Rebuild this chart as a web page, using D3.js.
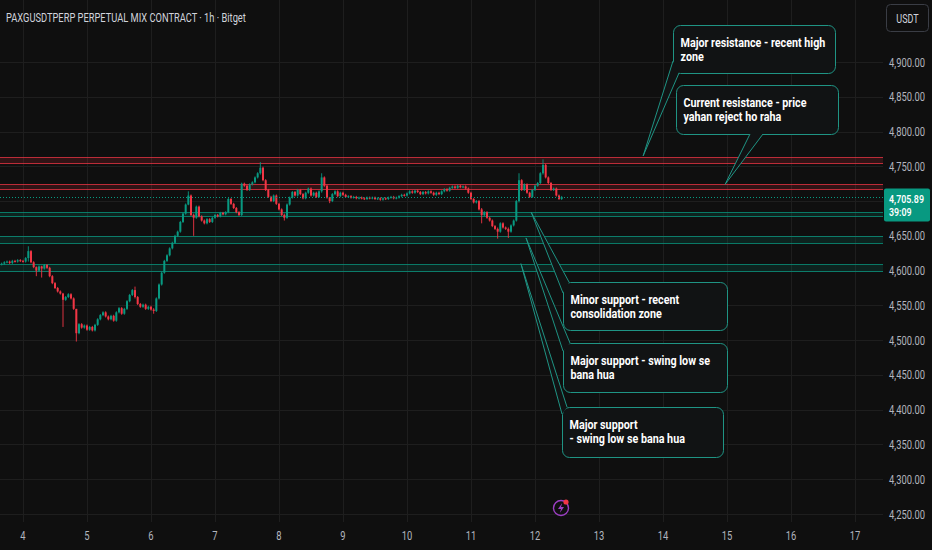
<!DOCTYPE html>
<html>
<head>
<meta charset="utf-8">
<script src="https://cdn.jsdelivr.net/npm/d3@7"></script>
<style>
  html, body { margin: 0; padding: 0; background: #0f0f0f; }
  svg { display: block; }
</style>
</head>
<body>
<svg id="chart"></svg>
<script>
    // PAXG perp, 1h candles
    var title = "PAXGUSDTPERP PERPETUAL MIX CONTRACT · 1h · Bitget"
    var currency = "USDT"
    var lastPrice = 4705.89
    var countdown = "39:09"

    var dayTicks = [4, 5, 6, 7, 8, 9, 10, 11, 12, 13, 14, 15, 16, 17]
    var priceTicks = [4250, 4300, 4350, 4400, 4450, 4500, 4550, 4600, 4650, 4700, 4750, 4800, 4850, 4900]
    var hiddenPriceTicks = [4700] // sits under the last price tag

    // first candle opens day 3, 16:00
    var firstCandleDay = 3 + 16 / 24
    var firstOpen = 4609

    var closes = [
      // day 3
      4610, 4612, 4613, 4611, 4614, 4613, 4615, 4614,
      // day 4
      4613, 4618, 4628, 4612, 4605, 4600, 4606, 4603, 4608, 4604, 4592, 4582,
      4575, 4570, 4567, 4558, 4562, 4566, 4560, 4545, 4510, 4523, 4518, 4521,
      // day 5
      4515, 4519, 4514, 4522, 4530, 4536, 4540, 4534, 4530, 4535, 4528, 4540,
      4546, 4538, 4545, 4556, 4565, 4572, 4562, 4552, 4548, 4551, 4545, 4548,
      // day 6
      4544, 4542, 4560, 4580, 4597, 4614, 4622, 4632, 4640, 4650, 4656, 4670,
      4682, 4695, 4708, 4680, 4676, 4692, 4678, 4672, 4668, 4674, 4670, 4676,
      // day 7
      4680, 4678, 4683, 4681, 4684, 4703, 4696, 4690, 4684, 4680, 4725, 4722,
      4716, 4724, 4727, 4734, 4740, 4748, 4730, 4716, 4706, 4700, 4708, 4696,
      // day 8
      4688, 4680, 4676, 4695, 4705, 4713, 4708, 4716, 4710, 4704, 4712, 4718,
      4708, 4712, 4706, 4714, 4734, 4722, 4705, 4700, 4710, 4714, 4707, 4712,
      // day 9
      4709, 4706, 4707, 4705, 4706, 4704, 4705, 4704, 4703, 4705, 4704, 4705,
      4703, 4704, 4702, 4704, 4703, 4705, 4706, 4704, 4705, 4707, 4709, 4708,
      // day 10
      4711, 4714, 4712, 4715, 4713, 4710, 4713, 4711, 4714, 4712, 4709, 4712,
      4710, 4714, 4717, 4715, 4719, 4721, 4719, 4722, 4720, 4721, 4718, 4712,
      // day 11
      4703, 4698, 4700, 4688, 4680, 4684, 4676, 4672, 4664, 4660, 4656, 4668,
      4662, 4660, 4656, 4665, 4672, 4700, 4730, 4716, 4724, 4712, 4706, 4716,
      // day 12
      4722, 4726, 4740, 4752, 4734, 4726, 4716, 4718, 4708, 4703, 4705.89
    ]

    // candle index -> [high, low] where the wick clearly sticks out
    var wickExtremes = {
      10: [4635, 4613], 13: [4606, 4592], 15: [4607, 4590], 23: [4568, 4519],
      28: [4545, 4498], 50: [4577, 4560], 57: [4546, 4538], 70: [4714, 4694],
      72: [4682, 4650], 97: [4756, 4738], 106: [4682, 4672], 120: [4740, 4712],
      123: [4706, 4697], 180: [4690, 4668], 186: [4662, 4646], 190: [4662, 4647],
      194: [4740, 4698], 203: [4760, 4738]
    }

    var resistanceZones = [[4755, 4763], [4718, 4724]]
    var supportZones = [[4678, 4684], [4640, 4650], [4600, 4610]]

    var noteTexts = [
      ["Major resistance - recent high", "zone"],
      ["Current resistance - price", "yahan reject ho raha"],
      ["Minor support - recent", "consolidation zone"],
      ["Major support - swing low se", "bana hua"],
      ["Major support", "- swing low se bana hua"]
    ]
    // where each callout points: [day, price]
    var noteAnchors = [[13.69, 4765], [14.97, 4724], [11.94, 4684], [11.86, 4647], [11.78, 4610]]

    // layout only: callout boxes in px and where the tail leaves the box
    var noteBoxes = [
      {x: 673, y: 25, w: 162, h: 48, tail: [[0, 36], [6, 48]]},
      {x: 676, y: 85, w: 162, h: 49, tail: [[74, 49], [87, 49]]},
      {x: 563, y: 282, w: 164, h: 48, tail: [[6, 0], [0, 11]]},
      {x: 563, y: 343, w: 164, h: 49, tail: [[7, 0], [0, 8]]},
      {x: 562, y: 407, w: 161, h: 50, tail: [[5, 0], [0, 7]]}
    ]

    var width = 932
    var height = 550
    var plotRight = 883
    var plotBottom = 522

    var FONT = "Roboto, 'Noto Sans', 'DejaVu Sans', sans-serif"
    var bg = "#0f0f0f"
    var upColor = "#089981"
    var downColor = "#f23645"
    var noteStroke = "#1f9484"

    var svg = d3.select("#chart").attr("width", width).attr("height", height)
    svg.append("rect").attr("width", width).attr("height", height).attr("fill", bg)

    var xScale = d3.scaleLinear().domain([4, 17]).range([23, 855])
    var yScale = d3.scaleLinear().domain([4250, 4900]).range([514, 62])

    // the screenshot text is narrow, so squeeze the font to the widths seen
    function squeeze(sample, target, size, weight) {
      var t = svg.append("text").attr("font-family", FONT).attr("font-size", size)
        .attr("font-weight", weight).text(sample)
      var k = target / t.node().getComputedTextLength()
      t.remove()
      return k
    }

    function addText(parent, x, y, str, o) {
      return parent.append("text")
        .attr("transform", `translate(${x},${y}) scale(${o.k},1)`)
        .attr("text-anchor", o.anchor || "start")
        .attr("font-family", FONT)
        .attr("font-size", o.size)
        .attr("font-weight", o.weight || 400)
        .attr("fill", o.color)
        .text(str)
    }

    var axisK = squeeze("4,900.00", 36, 12.5, 400)
    var tagK = squeeze("4,705.89", 35, 11, 600)
    var titleK = squeeze(title, 240, 12.5, 400)
    var noteK = squeeze(noteTexts[0][0], 145, 13.5, 700)

    function displayGrid() {
      var grid = svg.append("g")
      grid.selectAll(".hgrid").data(priceTicks).enter().append("line")
        .attr("x1", 0).attr("x2", plotRight)
        .attr("y1", d => Math.round(yScale(d)) + 0.5).attr("y2", d => Math.round(yScale(d)) + 0.5)
        .attr("stroke", "#1e1e1e")
      grid.selectAll(".vgrid").data(dayTicks).enter().append("line")
        .attr("x1", d => Math.round(xScale(d)) + 0.5).attr("x2", d => Math.round(xScale(d)) + 0.5)
        .attr("y1", 0).attr("y2", plotBottom)
        .attr("stroke", "#1e1e1e")
    }

    function displayZones(zones, color) {
      var g = svg.append("g")
      zones.forEach(z => {
        var top = Math.round(yScale(z[1])) + 0.5
        var bot = Math.round(yScale(z[0])) + 0.5
        g.append("rect").attr("x", 0).attr("width", plotRight)
          .attr("y", top).attr("height", bot - top)
          .attr("fill", color).attr("fill-opacity", 0.15)
        g.append("line").attr("x1", 0).attr("x2", plotRight).attr("y1", top).attr("y2", top)
          .attr("stroke", color).attr("stroke-opacity", 0.75)
        g.append("line").attr("x1", 0).attr("x2", plotRight).attr("y1", bot).attr("y2", bot)
          .attr("stroke", color).attr("stroke-opacity", 0.75)
      })
    }

    function displayCandles() {
      var candles = closes.map((c, i) => {
        var open = i ? closes[i - 1] : firstOpen
        var ext = wickExtremes[i] || [Math.max(open, c) + 1.5, Math.min(open, c) - 1.5]
        return {day: firstCandleDay + i / 24, open: open, close: c,
                high: Math.max(ext[0], open, c), low: Math.min(ext[1], open, c)}
      })
      var step = xScale(4 + 1 / 24) - xScale(4)
      var bodyW = step * 0.75

      var g = svg.append("g")
      g.selectAll(".wick").data(candles).enter().append("line")
        .attr("x1", d => xScale(d.day)).attr("x2", d => xScale(d.day))
        .attr("y1", d => yScale(d.high)).attr("y2", d => yScale(d.low))
        .attr("stroke", d => d.close >= d.open ? upColor : downColor)
        .attr("stroke-width", 0.9)
      g.selectAll(".body").data(candles).enter().append("rect")
        .attr("x", d => xScale(d.day) - bodyW / 2)
        .attr("width", bodyW)
        .attr("y", d => yScale(Math.max(d.open, d.close)))
        .attr("height", d => Math.max(1, Math.abs(yScale(d.open) - yScale(d.close))))
        .attr("fill", d => d.close >= d.open ? upColor : downColor)
    }

    function displayLastPrice() {
      var py = Math.round(yScale(lastPrice)) + 0.5
      svg.append("line").attr("x1", 0).attr("x2", plotRight).attr("y1", py).attr("y2", py)
        .attr("stroke", upColor).attr("stroke-dasharray", "1,2")
      svg.append("rect").attr("x", 884).attr("y", py - 9).attr("width", 46).attr("height", 33)
        .attr("rx", 2).attr("fill", upColor)
      addText(svg, 889, py + 5, d3.format(",.2f")(lastPrice), {k: tagK, size: 11, weight: 600, color: "#ffffff"})
      addText(svg, 889, py + 18.5, countdown, {k: tagK, size: 11, weight: 600, color: "#ffffff"})
    }

    function displayAxes() {
      var fmt = d3.format(",.2f")
      priceTicks.filter(p => hiddenPriceTicks.indexOf(p) < 0).forEach(p => {
        addText(svg, 925, yScale(p) + 4.5, fmt(p), {k: axisK, size: 12.5, anchor: "end", color: "#b2b5be"})
      })
      dayTicks.forEach(d => {
        addText(svg, xScale(d), 540, d, {k: axisK, size: 12.5, anchor: "middle", color: "#b2b5be"})
      })

      // currency button
      svg.append("rect").attr("x", 886.5).attr("y", 4.5).attr("width", 42).attr("height", 27)
        .attr("rx", 4).attr("fill", "none").attr("stroke", "#3a3d45")
      addText(svg, 907.5, 22.5, currency, {k: axisK, size: 12, anchor: "middle", color: "#d1d4dc"})

      addText(svg, 6, 21.5, title, {k: titleK, size: 12.5, color: "#d1d4dc"})
    }

    function displayNotes() {
      noteBoxes.forEach((b, k) => {
        var tip = [xScale(noteAnchors[k][0]), yScale(noteAnchors[k][1])]
        var p1 = [b.x + b.tail[0][0], b.y + b.tail[0][1]]
        var p2 = [b.x + b.tail[1][0], b.y + b.tail[1][1]]
        var g = svg.append("g")
        g.append("rect").attr("x", b.x + 0.5).attr("y", b.y + 0.5).attr("width", b.w).attr("height", b.h)
          .attr("rx", 7).attr("fill", "#111314").attr("stroke", noteStroke)
        g.append("path").attr("d", `M${p1}L${tip}L${p2}`)
          .attr("fill", "#111314").attr("stroke", noteStroke)
        noteTexts[k].forEach((line, j) => {
          addText(g, b.x + 7.5, b.y + 21.5 + j * 14.5, line, {k: noteK, size: 13.5, weight: 700, color: "#ffffff"})
        })
      })
    }

    function displayIcon() {
      var g = svg.append("g").attr("transform", "translate(561,508)")
      g.append("circle").attr("r", 7.5).attr("fill", "none").attr("stroke", "#9c3fc4").attr("stroke-width", 1.4)
      g.append("path").attr("d", "M1.2,-5 L-3,1 L0,1 L-1.2,5 L3,-1 L0,-1 Z").attr("fill", "#9c3fc4")
      g.append("circle").attr("cx", 5).attr("cy", -6).attr("r", 2.6).attr("fill", downColor)
    }

    displayGrid()
    displayZones(resistanceZones, downColor)
    displayZones(supportZones, upColor)
    displayCandles()
    displayLastPrice()
    displayNotes()
    displayAxes()
    displayIcon()
</script>
</body>
</html>
